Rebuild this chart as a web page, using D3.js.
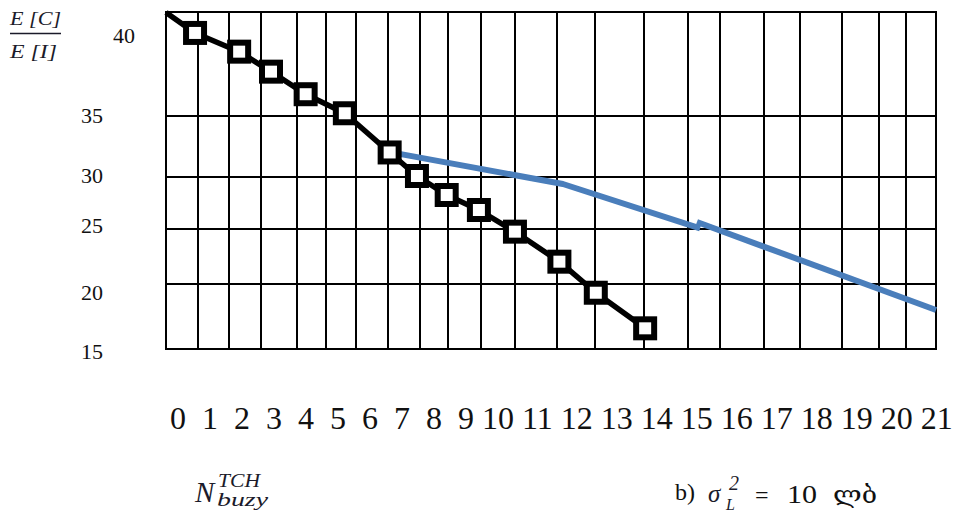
<!DOCTYPE html>
<html>
<head>
<meta charset="utf-8">
<script src="https://cdn.jsdelivr.net/npm/d3@7"></script>
<style>
  html, body { margin: 0; padding: 0; background: #fff; }
  svg { display: block; }
  text { font-family: "Liberation Serif", "Times New Roman", serif; fill: #111; }
  .math { font-style: italic; fill: #1b1b2a; }
</style>
</head>
<body>
<svg id="chart" width="957" height="515"></svg>
<script>
// Mean C/I ratio against the number of busy traffic channels (σL² = 10 dB)

// Axis labels
const xTickLabels = ["0","1","2","3","4","5","6","7","8","9","10",
                     "11","12","13","14","15","16","17","18","19","20","21"];
const yTickValues = [40, 35, 30, 25, 20, 15];

// Hand-ruled grid, in chart units
const gridCols = [0, 0.914, 1.8, 2.714, 3.743, 4.571, 5.429, 6.343, 7.257, 8.057, 9.0,
                  9.971, 11.171, 12.257, 13.657, 14.914, 15.829, 17.086, 18.114, 19.314,
                  20.371, 21.143, 22.0];
const gridRows = [41.44, 34.96, 29.85, 24.74, 20.63, 15.29];

// Black series (square markers), starting from the grid corner
const blackStartN = 0, blackStartR = 41.44;
const blackN = [0.83, 2.09, 3.0, 3.99, 5.11, 6.39, 7.17, 8.02, 8.94, 9.97, 11.24, 12.28, 13.69];
const blackR = [40.16, 38.99, 37.74, 36.33, 35.14, 31.92, 29.95, 28.05, 26.55, 24.54, 22.30, 19.98, 16.99];

// Blue series, drawn as two pieces
const blueN1 = [6.4, 11.34, 15.26];
const blueR1 = [31.95, 29.15, 24.78];
const blueN2 = [15.17, 22];
const blueR2 = [25.35, 18.53];

const svg = d3.select("#chart");

const x = d3.scaleLinear().domain([0, 22]).range([166, 936]);
const y = d3.scaleLinear()
  .domain([15, 20, 25, 30, 35, 40])
  .range([352, 292.5, 225.5, 175.5, 115.5, 35.5]);

// grid
const grid = svg.append("g").attr("stroke", "#000").attr("stroke-width", 2).attr("fill", "none");
const yTop = Math.round(y(gridRows[0])), yBot = Math.round(y(gridRows[gridRows.length - 1]));
const xL = Math.round(x(gridCols[0])), xR = Math.round(x(gridCols[gridCols.length - 1]));
grid.selectAll("line.col").data(gridCols).join("line")
  .attr("class", "col")
  .attr("x1", d => Math.round(x(d))).attr("x2", d => Math.round(x(d)))
  .attr("y1", yTop - 1).attr("y2", yBot + 1);
grid.selectAll("line.row").data(gridRows).join("line")
  .attr("class", "row")
  .attr("y1", d => Math.round(y(d))).attr("y2", d => Math.round(y(d)))
  .attr("x1", xL - 1).attr("x2", xR + 1);

// blue series
const line = d3.line().x(d => x(d[0])).y(d => y(d[1]));
[[blueN1, blueR1], [blueN2, blueR2]].forEach(([ns, rs]) => {
  svg.append("path")
    .datum(ns.map((n, i) => [n, rs[i]]))
    .attr("d", line)
    .attr("fill", "none")
    .attr("stroke", "#4a7ebb")
    .attr("stroke-width", 6)
    .attr("stroke-linejoin", "round");
});

// black series
const blackPts = [[blackStartN, blackStartR]].concat(blackN.map((n, i) => [n, blackR[i]]));
svg.append("path")
  .datum(blackPts)
  .attr("d", line)
  .attr("fill", "none")
  .attr("stroke", "#000")
  .attr("stroke-width", 5.5)
  .attr("stroke-linejoin", "round");

const mk = 18;
svg.append("g").selectAll("rect").data(blackN.map((n, i) => [n, blackR[i]])).join("rect")
  .attr("x", d => x(d[0]) - mk / 2)
  .attr("y", d => y(d[1]) - mk / 2)
  .attr("width", mk).attr("height", mk)
  .attr("fill", "#fff")
  .attr("stroke", "#000")
  .attr("stroke-width", 6);

// y tick labels
svg.append("g").selectAll("text").data(yTickValues).join("text")
  .attr("x", d => d === 40 ? 135 : 103)
  .attr("y", d => y(d))
  .attr("dy", "0.33em")
  .attr("text-anchor", "end")
  .attr("font-size", 22)
  .text(d => d);

// x tick labels, set as one line of text
const xt = svg.append("text")
  .attr("x", 170).attr("y", 429)
  .attr("font-size", 32)
  .attr("xml:space", "preserve")
  .style("white-space", "pre");
xt.selectAll("tspan").data(xTickLabels).join("tspan")
  .text((d, i) => {
    if (i === xTickLabels.length - 1) return d;
    return d + (xTickLabels[i + 1].length === 1 ? "  " : " ");
  });

// y-axis title: E[C] / E[I]
svg.append("text").attr("class", "math").attr("x", 10).attr("y", 25)
  .attr("font-size", 18).attr("textLength", 51).attr("lengthAdjust", "spacingAndGlyphs")
  .text("E [C]");
svg.append("line").attr("x1", 10).attr("x2", 61).attr("y1", 33.5).attr("y2", 33.5)
  .attr("stroke", "#1b1b2a").attr("stroke-width", 1.3);
svg.append("text").attr("class", "math").attr("x", 10).attr("y", 58)
  .attr("font-size", 18).attr("textLength", 47).attr("lengthAdjust", "spacingAndGlyphs")
  .text("E [I]");

// x-axis title: N^TCH_buzy
svg.append("text").attr("class", "math").attr("x", 195).attr("y", 502)
  .attr("font-size", 29).text("N");
svg.append("text").attr("class", "math").attr("x", 218).attr("y", 487)
  .attr("font-size", 18).attr("textLength", 42).attr("lengthAdjust", "spacingAndGlyphs").text("TCH");
svg.append("text").attr("class", "math").attr("x", 217).attr("y", 506)
  .attr("font-size", 18).attr("textLength", 51).attr("lengthAdjust", "spacingAndGlyphs").text("buzy");

// panel caption: b) σL² = 10 dB
svg.append("text").attr("x", 675).attr("y", 500).attr("font-size", 24).text("b)");
svg.append("text").attr("class", "math").attr("x", 708).attr("y", 502).attr("font-size", 25).text("σ");
svg.append("text").attr("class", "math").attr("x", 729).attr("y", 490).attr("font-size", 20).text("2");
svg.append("text").attr("class", "math").attr("x", 726).attr("y", 510).attr("font-size", 16).text("L");
svg.append("text").attr("x", 755).attr("y", 503).attr("font-size", 24).text("=");
svg.append("text").attr("x", 787).attr("y", 503).attr("font-size", 25)
  .attr("textLength", 30).attr("lengthAdjust", "spacingAndGlyphs").text("10");
svg.append("text").attr("x", 833).attr("y", 503).attr("font-size", 24)
  .style("font-family", "'DejaVu Serif', 'DejaVu Sans', serif")
  .attr("textLength", 44).attr("lengthAdjust", "spacingAndGlyphs").text("ლბ");
</script>
</body>
</html>
